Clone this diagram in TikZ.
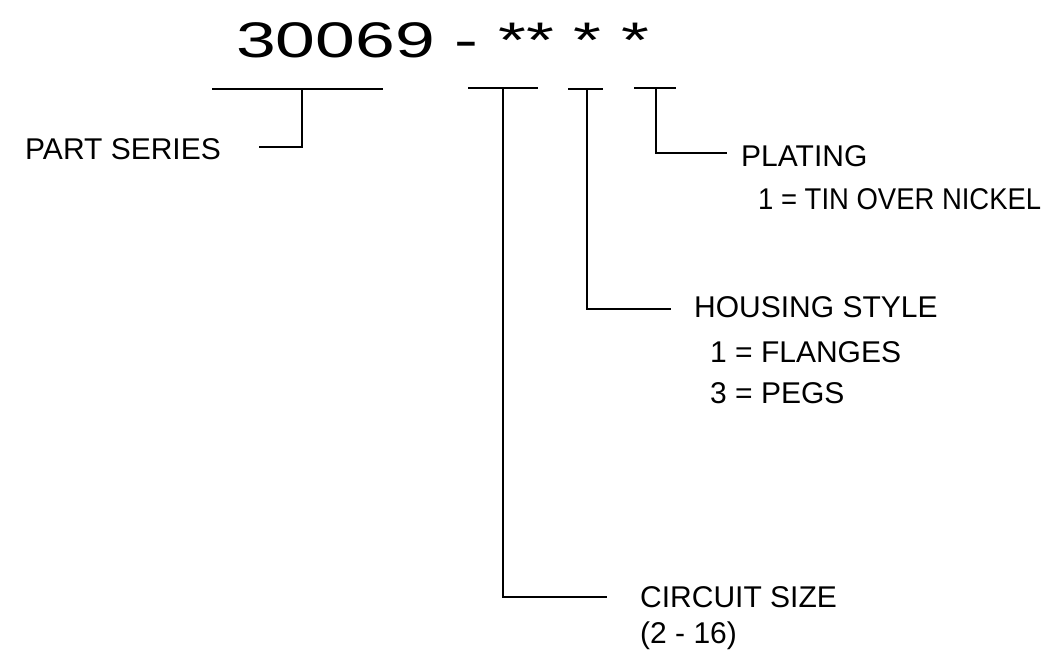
\documentclass[tikz,border=0pt]{standalone}
\usepackage{fontspec}
\setmainfont{Liberation Sans}
\tikzset{
  lbl/.style={anchor=base west, inner sep=0pt, font=\fontsize{30}{36}\selectfont},
  ttl/.style={anchor=base west, inner sep=0pt, font=\fontsize{50}{60}\selectfont},
  ln/.style={line width=1.2pt, black}
}
\begin{document}
\begin{tikzpicture}[x=1pt,y=-1pt]
\useasboundingbox (0,0) rectangle (1048,660);
% title
\node[ttl] (title) at (236,58) {\scalebox{1.43}[1]{30069 - ** * *}};
% labels
\node[lbl] (ps) at (25,160) {PART SERIES};
\node[lbl] (pl) at (741,167) {PLATING};
\node[lbl] (pl1) at (758,210) {\scalebox{0.915}[1]{1 = TIN OVER NICKEL}};
\node[lbl] (hs) at (694,317) {HOUSING STYLE};
\node[lbl] (hs1) at (710,362) {1 = FLANGES};
\node[lbl] (hs3) at (710,403) {3 = PEGS};
\node[lbl] (cs) at (640,607) {CIRCUIT SIZE};
\node[lbl] (cs1) at (640,643) {(2 - 16)};
% bars under title
\coordinate (b1l) at (212,89); \coordinate (b1r) at (383,89); \coordinate (b1m) at (302,89);
\coordinate (b2l) at (468,88); \coordinate (b2r) at (538,88); \coordinate (b2m) at (503,88);
\coordinate (b3l) at (568,89); \coordinate (b3r) at (603,89); \coordinate (b3m) at (587,89);
\coordinate (b4l) at (634,88); \coordinate (b4r) at (676,88); \coordinate (b4m) at (656,88);
\draw[ln] (b1l) -- (b1r);
\draw[ln] (b2l) -- (b2r);
\draw[ln] (b3l) -- (b3r);
\draw[ln] (b4l) -- (b4r);
% leader ends
\coordinate (e1) at (259,147);
\coordinate (e2) at (607,597);
\coordinate (e3) at (671,309);
\coordinate (e4) at (727,153);
\draw[ln] (b1m) |- (e1);
\draw[ln] (b2m) |- (e2);
\draw[ln] (b3m) |- (e3);
\draw[ln] (b4m) |- (e4);
\end{tikzpicture}
\end{document}
